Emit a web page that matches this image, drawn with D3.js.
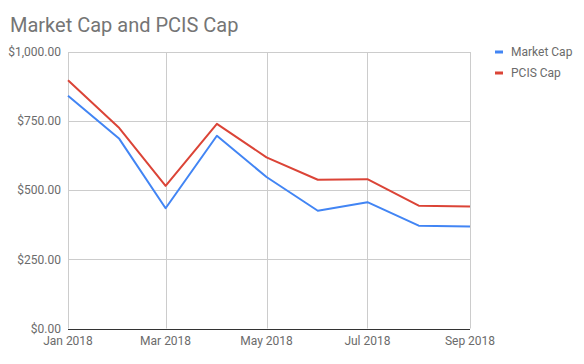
<!DOCTYPE html>
<html>
<head>
<meta charset="utf-8">
<script src="https://cdn.jsdelivr.net/npm/d3@7"></script>
<style>
  html, body { margin: 0; padding: 0; background: #fff; }
  svg { display: block; font-family: Roboto, Arial, sans-serif; }
</style>
</head>
<body>
<svg id="chart" width="584" height="364"></svg>
<script>
const months = ["2018-01-01","2018-02-01","2018-03-01","2018-04-01","2018-05-01","2018-06-01","2018-07-01","2018-08-01","2018-09-01"];
const marketCap = [842, 686, 435, 697, 548, 426, 457, 372, 369];
const pcisCap = [898, 725, 516, 740, 619, 538, 540, 444, 441];
const seriesNames = ["Market Cap", "PCIS Cap"];
const seriesColors = ["#4285f4", "#db4437"];
const yTicks = [0, 250, 500, 750, 1000];
const xTickDates = ["2018-01-01","2018-03-01","2018-05-01","2018-07-01","2018-09-01"];

const parse = d3.utcParse("%Y-%m-%d");
const dates = months.map(parse);
const svg = d3.select("#chart");

const x = d3.scaleUtc().domain([parse("2018-01-01"), parse("2018-09-01")]).range([68, 470]);
const y = d3.scaleLinear().domain([0, 1000]).range([328.5, 52]);

// title
svg.append("text").attr("x", 10).attr("y", 32)
  .attr("font-size", 20).attr("fill", "#757575").text("Market Cap and PCIS Cap");

// horizontal gridlines
svg.append("g").selectAll("line").data(yTicks.filter(d => d > 0)).join("line")
  .attr("x1", 68).attr("x2", 470)
  .attr("y1", d => Math.round(y(d)) + 0.5).attr("y2", d => Math.round(y(d)) + 0.5)
  .attr("stroke", "#cccccc");

// vertical gridlines
svg.append("g").selectAll("line").data(xTickDates.map(parse)).join("line")
  .attr("x1", d => Math.round(x(d)) + 0.5).attr("x2", d => Math.round(x(d)) + 0.5)
  .attr("y1", y(1000)).attr("y2", y(0))
  .attr("stroke", "#cccccc");

// y labels
svg.append("g").selectAll("text").data(yTicks).join("text")
  .attr("x", 61).attr("y", d => y(d)).attr("dy", "0.35em")
  .attr("text-anchor", "end").attr("font-size", 12).attr("fill", "#6b6b6b")
  .text(d => d3.format("$,.2f")(d));

// x labels
const fmt = d3.utcFormat("%b %Y");
svg.append("g").selectAll("text").data(xTickDates.map(parse)).join("text")
  .attr("x", d => x(d)).attr("y", 345)
  .attr("text-anchor", "middle").attr("font-size", 12).attr("fill", "#6b6b6b")
  .text(d => fmt(d));

// baseline
svg.append("line").attr("x1", 68).attr("x2", 470)
  .attr("y1", Math.round(y(0)) + 0.5).attr("y2", Math.round(y(0)) + 0.5)
  .attr("stroke", "#333333");

// lines
const line = d3.line().x((d, i) => x(dates[i])).y(d => y(d));
[marketCap, pcisCap].forEach((s, k) => {
  svg.append("path").datum(s).attr("d", line)
    .attr("fill", "none").attr("stroke", seriesColors[k]).attr("stroke-width", 2)
    .attr("stroke-linejoin", "round");
});

// legend
const lg = svg.append("g");
seriesNames.forEach((n, k) => {
  const ly = 52 + k * 21;
  lg.append("rect").attr("x", 495).attr("y", ly - 1.5).attr("width", 8).attr("height", 3)
    .attr("fill", seriesColors[k]);
  lg.append("text").attr("x", 511).attr("y", ly).attr("dy", "0.35em")
    .attr("font-size", 12).attr("fill", "#6b6b6b").text(n);
});
</script>
</body>
</html>
